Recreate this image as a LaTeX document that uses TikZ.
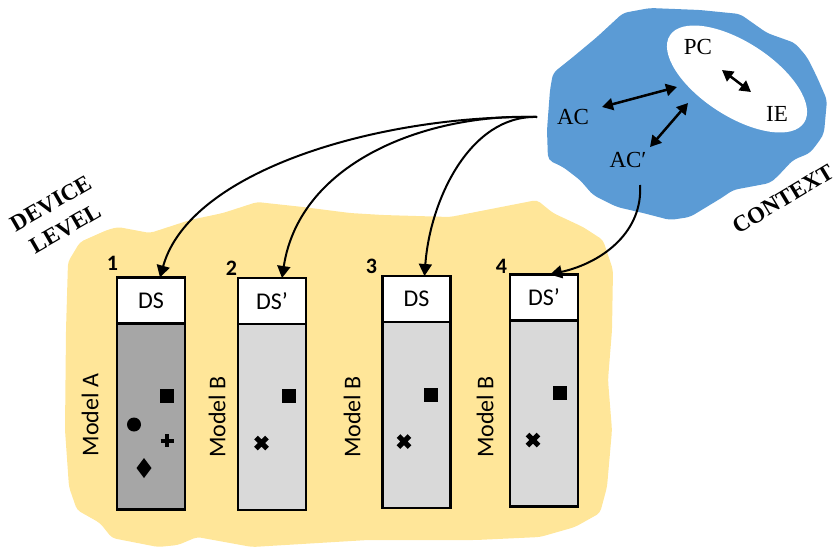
\documentclass[tikz,border=0pt]{standalone}
\usepackage{fontspec}
\setmainfont{Liberation Serif}
\newfontfamily\carlito{Carlito}
\usetikzlibrary{arrows.meta}
\definecolor{sky}{HTML}{5B9BD5}
\definecolor{sand}{HTML}{FFE699}
\definecolor{darkgrey}{HTML}{A6A6A6}
\definecolor{lightgrey}{HTML}{D9D9D9}
\begin{document}
\begin{tikzpicture}[x=1pt,y=-1pt,
  head/.style={draw, line width=2.5pt, outer sep=0pt, fill=white, minimum width=68pt,
    minimum height=46pt, inner sep=0pt, anchor=south, font=\carlito\fontsize{24}{26}\selectfont},
  body/.style={draw, line width=2.5pt, outer sep=0pt, minimum width=68pt, minimum height=186pt,
    inner sep=0pt},
  num/.style={inner sep=0pt, font=\carlito\bfseries\fontsize{22}{24}\selectfont},
  model/.style={inner sep=0pt, rotate=90, font=\carlito\fontsize{24}{26}\selectfont},
  ctx/.style={inner sep=0pt, font=\fontsize{23}{26}\selectfont},
  banner/.style={inner sep=0pt, align=center, font=\bfseries\fontsize{23}{29}\selectfont},
  link/.style={-{Triangle[length=12pt,width=13pt]}, line width=2pt},
  twoway/.style={{Triangle[length=11pt,width=12pt]}-{Triangle[length=11pt,width=12pt]}, line width=2.5pt},
  glyph/.style={fill=black},
  cross/.style={line width=5pt},
]
\useasboundingbox (0,0) rectangle (840,550);

% device-level backdrop
\fill[sand, rounded corners=4pt]
  (68,262) -- (80,242) -- (107,230) -- (118,227) -- (150,233) -- (190,220) -- (223,213)
  -- (257,202) -- (303,207) -- (350,213) -- (383,215) -- (450,217) -- (537,200) -- (553,213)
  -- (583,227) -- (603,240) -- (613,270) -- (612,330) -- (608,380) -- (612,430) -- (607,487)
  -- (600,513) -- (575,527) -- (540,537) -- (476,540) -- (368,540) -- (252,547) -- (197,537)
  -- (178,545) -- (158,547) -- (112,538) -- (100,523) -- (77,510) -- (69,487) -- (65,430)
  -- (66,330) -- cycle;

% context cloud
\fill[sky, rounded corners=5pt]
  (623,13) -- (650,8) -- (700,10) -- (740,14) -- (767,33) -- (795,43) -- (807,57) -- (817,77)
  -- (827,100) -- (824,133) -- (820,140) -- (810,153) -- (793,160) -- (777,177) -- (770,183)
  -- (733,190) -- (723,197) -- (690,217) -- (670,220) -- (643,213) -- (617,207) -- (593,195)
  -- (580,180) -- (563,167) -- (548,160) -- (547,130) -- (550,90) -- (553,73) -- (573,57)
  -- (597,37) -- cycle;
\fill[white, rotate around={-33:(737,79)}] (737,79) ellipse [x radius=80, y radius=37];

% context labels
\node[ctx] (pc) at (698,47) {PC};
\node[ctx] (ie) at (777,114) {IE};
\node[ctx] (ac) at (573,117) {AC};
\node[ctx] (acp) at (628,160) {AC′};

\coordinate (acin) at (602,107);
\coordinate (ellac) at (677,87);
\coordinate (acpin) at (650,147);
\coordinate (ellacp) at (688,103);
\coordinate (pcin) at (722,70);
\coordinate (iein) at (751,92);
\draw[twoway] (acin) -- (ellac);
\draw[twoway] (acpin) -- (ellacp);
\draw[twoway] (pcin) -- (iein);

\node[banner, rotate=31] (context) at (783,199) {CONTEXT};
\node[banner, rotate=30] (device) at (58,216) {DEVICE\\LEVEL};

% device stacks: body first, then its header sitting on it
\node[body, fill=darkgrey] (b1) at (151,416.5) {};
\node[body, fill=lightgrey] (b2) at (272,417) {};
\node[body, fill=lightgrey] (b3) at (416.5,415) {};
\node[body, fill=lightgrey] (b4) at (544,413.5) {};
\node[head] (h1) at (b1.north) {DS};
\node[head] (h2) at (b2.north) {DS’};
\node[head] (h3) at (b3.north) {DS};
\node[head] (h4) at (b4.north) {DS’};

\node[num] (n1) at (112.5,263.5) {1};
\node[num] (n2) at (231.5,268) {2};
\node[num] (n3) at (371.5,266.5) {3};
\node[num] (n4) at (501.5,266) {4};

\node[model] (m1) at (90,415) {Model A};
\node[model] (m2) at (217,417) {Model B};
\node[model] (m3) at (352,417) {Model B};
\node[model] (m4) at (485,417) {Model B};

% feature marks
\fill[glyph] (160,388.5) rectangle (174,402.5);
\fill[glyph] (134,424.5) circle (7);
\draw[line width=4pt] (160.5,440.5) -- (173.5,440.5) (167,434) -- (167,447);
\fill[glyph] (144,458) -- (151.5,468) -- (144,478) -- (136.5,468) -- cycle;

\fill[glyph] (282,388.5) rectangle (296,402.5);
\draw[cross] (256,437.5) -- (267,448.5) (256,448.5) -- (267,437.5);

\fill[glyph] (424,387.5) rectangle (438,401.5);
\draw[cross] (398.5,436) -- (409.5,447) (398.5,447) -- (409.5,436);

\fill[glyph] (553,385.5) rectangle (567,399.5);
\draw[cross] (527.5,434.5) -- (538.5,445.5) (527.5,445.5) -- (538.5,434.5);

% context-to-device links
\coordinate (acout) at (537,117);
\coordinate (acpout) at (640,185);
\draw[link] (acout) .. controls (380,115) and (190,170) .. ([xshift=9pt]h1.north);
\draw[link] (acout) .. controls (430,113) and (300,160) .. ([xshift=10pt]h2.north);
\draw[link] (acout) .. controls (470,115) and (430,200) .. ([xshift=8pt]h3.north);
\draw[link] (acpout) .. controls (643,230) and (605,262) .. ([xshift=6pt]h4.north);
\end{tikzpicture}
\end{document}
